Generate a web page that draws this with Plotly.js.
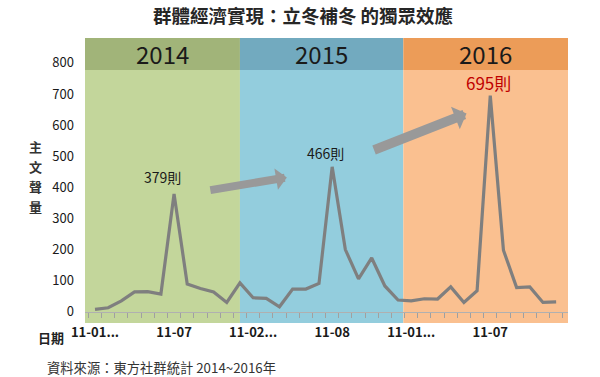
<!DOCTYPE html>
<html>
<head>
<meta charset="utf-8">
<script src="https://cdn.plot.ly/plotly-3.0.1.min.js"></script>
<style>html,body{margin:0;padding:0;background:#fff;}#chart{width:600px;height:377px;}</style>
</head>
<body>
<div id="chart"></div>
<script>
// Data (36 periods, 12 per year)
const years = ['2014', '2015', '2016'];
const values2014 = [8, 13, 35, 64, 65, 57, 379, 89, 75, 64, 30, 93];
const values2015 = [45, 43, 16, 73, 73, 91, 466, 200, 106, 173, 83, 38];
const values2016 = [35, 42, 41, 80, 30, 68, 695, 198, 78, 80, 30, 32];
const tickLabels = ['11-01...', '11-07', '11-02...', '11-08', '11-01...', '11-07'];
const tickIndex = [0, 6, 12, 18, 24, 30];
const peakLabels = ['379則', '466則', '695則'];
const yTitleChars = ['主', '文', '聲', '量'];

const allValues = values2014.concat(values2015, values2016);
const xIdx = allValues.map((_, i) => i);

const FONT = '"Noto Sans CJK TC", "Noto Sans", sans-serif';

const trace = {
  x: xIdx, y: allValues, type: 'scatter', mode: 'lines',
  line: {color: '#7f7f7f', width: 3.2}, hoverinfo: 'x+y'
};

// background bands (data x, paper y)
const bodyCols = ['#c3d69b', '#93cddd', '#fac090'];
const headCols = ['#a1b479', '#72aabf', '#ec9c58'];
const bounds = [[-0.76, 11], [11, 23.4], [23.4, 35.9]];
const shapes = [];
const annotations = [];
bounds.forEach((b, k) => {
  shapes.push({type: 'rect', xref: 'x', yref: 'paper', x0: b[0], x1: b[1], y0: 0, y1: 0.888,
    fillcolor: bodyCols[k], line: {width: 0}, layer: 'below'});
  shapes.push({type: 'rect', xref: 'x', yref: 'paper', x0: b[0], x1: b[1], y0: 0.888, y1: 1,
    fillcolor: headCols[k], line: {width: 0}, layer: 'below'});
  annotations.push({xref: 'x', yref: 'paper', x: (b[0] + b[1]) / 2, y: 0.944, text: years[k],
    showarrow: false, font: {family: FONT, size: 24, color: '#1a1a1a'}, yanchor: 'middle'});
});

// peak labels
const peaks = [6, 18, 30];
annotations.push({x: 5.1, y: allValues[peaks[0]], yshift: 5, text: peakLabels[0], showarrow: false,
  yanchor: 'bottom', font: {family: FONT, size: 14, color: '#1a1a1a'}});
annotations.push({x: 17.5, y: allValues[peaks[1]], yshift: 2, text: peakLabels[1], showarrow: false,
  yanchor: 'bottom', font: {family: FONT, size: 14, color: '#1a1a1a'}});
annotations.push({x: 29.9, y: allValues[peaks[2]], yshift: -1, text: peakLabels[2], showarrow: false,
  yanchor: 'bottom', font: {family: FONT, size: 17, color: '#c00000'}});

// arrows
annotations.push({x: 14.56, y: 432, ax: -78, ay: 13, text: '', showarrow: true,
  arrowhead: 1, arrowsize: 0.45, arrowwidth: 8, arrowcolor: '#999999', standoff: 0});
annotations.push({x: 28.2, y: 637, ax: -94, ay: 37, text: '', showarrow: true,
  arrowhead: 1, arrowsize: 0.42, arrowwidth: 9.5, arrowcolor: '#999999', standoff: 0});

// y-axis title, one character per line
const yTitlePos = [0.62, 0.55, 0.48, 0.41];
yTitleChars.forEach((c, i) => {
  annotations.push({xref: 'paper', yref: 'paper', x: -0.103, y: yTitlePos[i], text: '<b>' + c + '</b>',
    showarrow: false, xanchor: 'center', yanchor: 'middle', font: {family: FONT, size: 13, color: '#333'}});
});
annotations.push({xref: 'paper', yref: 'paper', x: -0.07, y: 0, yshift: -14, text: '<b>日期</b>',
  showarrow: false, xanchor: 'center', yanchor: 'middle', font: {family: FONT, size: 13, color: '#222'}});
annotations.push({xref: 'paper', yref: 'paper', x: -0.083, y: 0, yshift: -44, text: '資料來源：東方社群統計 2014~2016年',
  showarrow: false, xanchor: 'left', yanchor: 'middle', font: {family: FONT, size: 13.3, color: '#333'}});

const layout = {
  width: 600, height: 377,
  margin: {l: 85, r: 32, t: 38, b: 54},
  paper_bgcolor: '#ffffff', plot_bgcolor: 'rgba(0,0,0,0)',
  showlegend: false,
  font: {family: FONT},
  title: {text: '<b>群體經濟實現：立冬補冬 的獨眾效應</b>', x: 0.505, xanchor: 'center',
    y: 0.955, yanchor: 'middle', font: {family: FONT, size: 18.5, color: '#262626'}},
  xaxis: {
    range: [-0.76, 35.9], showgrid: false, zeroline: false,
    anchor: 'free', position: 0.04,
    showline: true, linecolor: '#b0b0b0', linewidth: 1,
    tickvals: tickIndex, ticktext: tickLabels, ticks: '',
    tickfont: {family: FONT, size: 13, color: '#1a1a1a', weight: 'bold'},
    ticklabelstandoff: 9,
    minor: {tick0: -0.5, dtick: 1, ticks: 'outside', ticklen: 5, tickcolor: '#a0a0a0', tickwidth: 1, showgrid: false}
  },
  yaxis: {
    range: [-36, 880], showgrid: false, zeroline: false, showline: false,
    tickvals: [0, 100, 200, 300, 400, 500, 600, 700, 800], ticks: '',
    tickfont: {family: FONT, size: 13, color: '#1a1a1a'}, ticklabelstandoff: 10
  },
  shapes: shapes,
  annotations: annotations
};

Plotly.newPlot('chart', [trace], layout, {displayModeBar: false, staticPlot: true});
</script>
</body>
</html>
